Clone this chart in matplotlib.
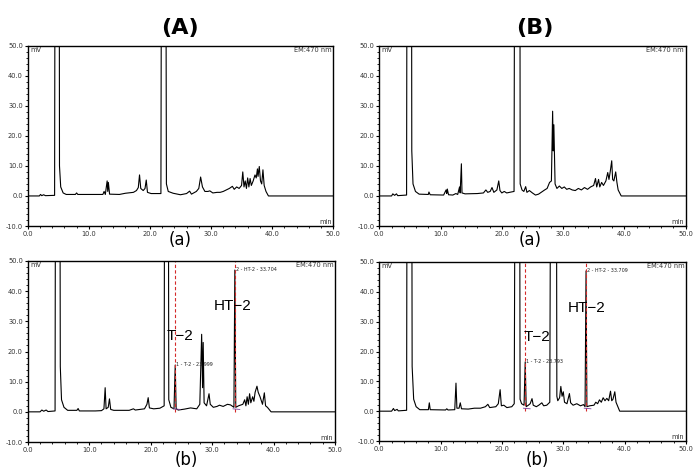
import matplotlib
matplotlib.use('Agg')
import matplotlib.pyplot as plt
from matplotlib.ticker import MultipleLocator, FormatStrFormatter

# chromatogram traces: (time min, signal mV)
trace_Aa = [(0, 0), (1.9, 0), (2.1, 0.5), (2.3, 0.1), (2.6, 0.4), (2.9, 0.1), (4.4, 0.2),
            (4.55, 200), (5.1, 200), (5.2, 10), (5.4, 3), (5.8, 1.0), (6.3, 0.5), (7.8, 0.5),
            (8.0, 1.0), (8.2, 0.5), (12.3, 0.5), (12.5, 1.5), (12.7, 0.5), (13.0, 5.0), (13.1, 1.5),
            (13.2, 4.5), (13.4, 0.6), (15.0, 0.5), (16.0, 0.9), (17.3, 1.2), (17.8, 1.8), (18.1, 2.8),
            (18.3, 7.0), (18.5, 2.5), (18.9, 1.8), (19.2, 2.5), (19.4, 5.3), (19.6, 1.2), (20.2, 0.8),
            (21.8, 0.8), (22.0, 200), (22.5, 200), (22.7, 4), (23.0, 1.5), (23.8, 0.9), (25.0, 0.4),
            (26.0, 0.8), (26.5, 1.6), (26.8, 0.6), (27.6, 1.5), (28.0, 2.5), (28.3, 6.3), (28.6, 3.0),
            (29.0, 1.5), (29.5, 1.5), (29.8, 1.7), (30.3, 1.0), (31.0, 1.2), (31.5, 1.2), (32.0, 1.5),
            (32.5, 2.0), (33.0, 2.5), (33.5, 3.2), (33.8, 2.2), (34.2, 3.0), (34.6, 2.5), (35.0, 3.5),
            (35.2, 8.0), (35.4, 3.0), (35.6, 5.0), (35.8, 2.5), (36.0, 6.0), (36.2, 3.0), (36.4, 5.8),
            (36.6, 3.5), (36.9, 5.0), (37.2, 7.0), (37.4, 6.0), (37.6, 9.0), (37.7, 6.5), (37.9, 9.8),
            (38.1, 5.0), (38.3, 4.0), (38.5, 8.7), (38.7, 3.5), (39.0, 1.5), (39.4, 0.0), (50, 0.0)]

trace_Ab = [(0, 0), (2.0, 0), (2.3, 0.6), (2.6, 0.2), (3.0, 0.6), (3.3, 0.1), (4.45, 0.3),
            (4.6, 200), (5.15, 200), (5.3, 15), (5.5, 4), (5.9, 1.5), (6.5, 0.5), (8.0, 0.5),
            (8.2, 1.1), (8.4, 0.3), (11.0, 0.3), (12.0, 0.4), (12.4, 1.0), (12.6, 8.0), (12.75, 1.0),
            (13.1, 1.5), (13.3, 4.3), (13.5, 0.8), (14.0, 0.5), (16.5, 0.5), (17.2, 1.0), (17.5, 0.6),
            (19.0, 1.0), (19.4, 2.5), (19.6, 4.7), (19.8, 1.3), (20.5, 1.0), (21.5, 1.2), (22.2, 2.0),
            (22.35, 200), (22.8, 200), (22.95, 4), (23.3, 1.5), (23.8, 1.0), (24.0, 15.5), (24.15, 1.0),
            (24.5, 0.6), (25.5, 0.9), (26.5, 1.3), (27.5, 1.0), (28.0, 2.5), (28.3, 25.7), (28.45, 8),
            (28.55, 23), (28.7, 3.0), (29.1, 2.0), (29.5, 6.0), (29.7, 2.5), (30.2, 1.5), (30.8, 1.8),
            (31.2, 2.2), (31.8, 1.8), (32.5, 2.5), (33.0, 2.3), (33.55, 1.5), (33.7, 47), (33.85, 1.5),
            (34.3, 2.0), (35.0, 2.5), (35.3, 4.0), (35.5, 2.0), (35.7, 5.0), (35.9, 2.5), (36.1, 6.0),
            (36.3, 3.0), (36.6, 5.0), (36.8, 3.5), (37.0, 6.5), (37.3, 8.5), (37.5, 6.5), (37.8, 5.0),
            (38.2, 2.5), (38.5, 6.3), (38.7, 2.0), (39.0, 1.5), (39.6, 0.0), (50, 0)]

trace_Ba = [(0, 0), (2.0, 0), (2.2, 0.7), (2.5, 0.2), (2.8, 0.7), (3.0, 0.1), (4.45, 0.3),
            (4.6, 200), (5.2, 200), (5.3, 15), (5.5, 4), (5.9, 1.5), (6.5, 0.6), (8.0, 0.5),
            (8.1, 1.3), (8.3, 0.4), (10.5, 0.3), (10.9, 2.0), (11.0, 0.8), (11.1, 2.3), (11.3, 0.4),
            (12.0, 0.3), (12.5, 0.8), (12.8, 0.5), (13.1, 3.0), (13.2, 1.0), (13.4, 10.7), (13.5, 1.0),
            (14.0, 0.7), (16.0, 0.8), (17.0, 1.0), (17.4, 2.0), (17.7, 1.2), (18.1, 1.5), (18.4, 2.8),
            (18.7, 1.2), (19.2, 2.0), (19.5, 5.0), (19.7, 1.8), (20.0, 1.0), (20.4, 1.5), (20.8, 1.0),
            (21.5, 1.3), (22.0, 1.5), (22.2, 200), (22.9, 200), (23.0, 4), (23.3, 2.0), (23.6, 1.5),
            (23.9, 3.1), (24.1, 1.2), (24.5, 1.8), (25.0, 1.0), (25.5, 0.3), (26.0, 0.6), (26.5, 1.3),
            (27.0, 2.0), (27.4, 2.5), (27.8, 4.5), (28.1, 5), (28.3, 28.2), (28.4, 15), (28.5, 23.7),
            (28.7, 4.0), (29.0, 2.5), (29.4, 3.3), (29.8, 2.5), (30.2, 3.0), (30.6, 2.2), (31.0, 2.5),
            (31.5, 2.0), (32.0, 1.8), (32.5, 2.5), (33.0, 2.0), (33.5, 2.8), (34.0, 2.2), (34.5, 3.0),
            (35.0, 3.5), (35.3, 5.8), (35.5, 3.0), (35.8, 5.5), (36.0, 3.0), (36.3, 4.5), (36.6, 3.5),
            (37.0, 5.0), (37.3, 7.8), (37.5, 5.5), (37.7, 8.0), (37.95, 11.7), (38.1, 5.5), (38.3, 5.0),
            (38.6, 8.0), (38.8, 4.5), (39.0, 2.0), (39.5, 0.0), (50, 0)]

trace_Bb = [(0, 0), (2.0, 0), (2.3, 0.9), (2.5, 0.2), (2.9, 0.6), (3.1, 0.1), (4.45, 0.3),
            (4.6, 200), (5.2, 200), (5.35, 15), (5.6, 4), (6.0, 1.5), (6.6, 0.5), (8.0, 0.5),
            (8.15, 2.8), (8.3, 0.5), (10.8, 0.4), (11.0, 0.8), (11.2, 0.4), (12.3, 0.5), (12.5, 9.4),
            (12.65, 1.0), (13.0, 1.0), (13.2, 2.8), (13.4, 0.8), (14.5, 0.7), (15.5, 1.0), (16.5, 1.0),
            (17.3, 1.5), (17.7, 2.3), (18.0, 1.2), (19.0, 1.5), (19.4, 2.5), (19.7, 7.2), (19.9, 1.8),
            (20.3, 2.0), (20.8, 1.2), (21.6, 1.5), (22.0, 2.5), (22.3, 200), (22.8, 200), (22.95, 4),
            (23.2, 2.5), (23.6, 2.0), (23.79, 16.5), (23.95, 1.5), (24.3, 2.0), (24.6, 2.5), (24.9, 4.2),
            (25.1, 2.0), (25.6, 1.5), (26.0, 2.0), (26.5, 2.8), (26.8, 1.8), (27.3, 2.0), (27.8, 3.0),
            (28.1, 200), (28.8, 200), (28.95, 5), (29.1, 3.5), (29.4, 4.5), (29.6, 8.3), (29.8, 5.0),
            (30.0, 6.5), (30.2, 3.0), (30.6, 2.5), (31.0, 5.9), (31.2, 2.8), (31.6, 2.0), (32.2, 2.5),
            (32.8, 1.8), (33.3, 2.2), (33.55, 1.5), (33.71, 47), (33.85, 1.5), (34.3, 1.8), (35.0, 2.0),
            (35.3, 3.0), (35.6, 2.5), (35.9, 3.8), (36.2, 3.0), (36.5, 4.5), (36.8, 3.5), (37.1, 4.3),
            (37.4, 3.5), (37.7, 6.7), (37.9, 3.5), (38.1, 4.0), (38.4, 6.5), (38.6, 3.0), (38.9, 1.5),
            (39.2, 0.0), (50, 0)]

# identified peaks in the spiked samples (b)
peak_names = ['T-2', 'HT-2']
rt_Ab = [23.999, 33.704]
rt_Bb = [23.793, 33.709]
apex_Ab = [15.5, 47.0]
apex_Bb = [16.5, 47.0]

panel_titles = ['(A)', '(B)']
sub_labels = ['(a)', '(b)']

fig = plt.figure(figsize=(7, 4.76), dpi=100)

boxes = {
    'Aa': [0.0396, 0.5252, 0.4364, 0.3788],
    'Ab': [0.0396, 0.0714, 0.4390, 0.3803],
    'Ba': [0.5419, 0.5252, 0.4374, 0.3788],
    'Bb': [0.5419, 0.0735, 0.4380, 0.3761],
}
traces = {'Aa': trace_Aa, 'Ab': trace_Ab, 'Ba': trace_Ba, 'Bb': trace_Bb}

axes = {}
for key, box in boxes.items():
    ax = fig.add_axes(box)
    t, v = zip(*traces[key])
    ax.plot(t, v, color='black', lw=0.8)
    ax.set_xlim(0, 50)
    ax.set_ylim(-10, 50)
    ax.xaxis.set_major_locator(MultipleLocator(10))
    ax.xaxis.set_minor_locator(MultipleLocator(2))
    ax.yaxis.set_major_locator(MultipleLocator(10))
    ax.yaxis.set_minor_locator(MultipleLocator(2))
    ax.xaxis.set_major_formatter(FormatStrFormatter('%.1f'))
    ax.yaxis.set_major_formatter(FormatStrFormatter('%.1f'))
    ax.tick_params(which='major', direction='out', length=2.5, width=0.8,
                   labelsize=4.8, labelcolor='#333333', pad=1)
    ax.tick_params(which='minor', direction='out', length=1.3, width=0.6)
    for s in ax.spines.values():
        s.set_linewidth(1.0)
    ax.text(0.008, 0.995, 'mV', transform=ax.transAxes, fontsize=4.8,
            color='#333333', va='top', ha='left')
    ax.text(0.995, 0.995, 'EM:470 nm', transform=ax.transAxes, fontsize=4.8,
            color='#333333', va='top', ha='right')
    ax.text(0.995, 0.005, 'min', transform=ax.transAxes, fontsize=4.8,
            color='#333333', va='bottom', ha='right')
    axes[key] = ax


def mark_peaks(ax, rts, apexes, name_pos, num_first):
    for i, (rt, apex, name) in enumerate(zip(rts, apexes, peak_names)):
        ax.vlines(rt, 0, 50, colors='#d42a2a', linestyles=(0, (3, 2)), lw=0.8)
        ax.plot([rt - 0.3, rt + 0.8], [1.0, 0.8], color='#7a3c9a', lw=0.6)
        ax.text(rt + 0.2, apex + 0.3, '%d - %s - %.3f' % (num_first + i, name, rt),
                fontsize=3.5, color='#222222', va='center', ha='left')
        nx, ny = name_pos[i]
        ax.text(nx, ny, name.replace('-', '\u2212'), fontsize=11, va='center', ha='left',
                family='Liberation Sans')


mark_peaks(axes['Ab'], rt_Ab, apex_Ab, [(22.6, 25), (30.2, 35)], 1)
mark_peaks(axes['Bb'], rt_Bb, apex_Bb, [(23.6, 24.8), (30.8, 34.5)], 1)

fig.text(0.257, 0.941, panel_titles[0], fontsize=16, fontweight='bold', ha='center', va='center')
fig.text(0.764, 0.941, panel_titles[1], fontsize=16, fontweight='bold', ha='center', va='center')
fig.text(0.257, 0.496, sub_labels[0], fontsize=12, ha='center', va='center')
fig.text(0.757, 0.496, sub_labels[0], fontsize=12, ha='center', va='center')
fig.text(0.266, 0.034, sub_labels[1], fontsize=12, ha='center', va='center')
fig.text(0.767, 0.034, sub_labels[1], fontsize=12, ha='center', va='center')

fig.savefig('out.png', dpi=100)
